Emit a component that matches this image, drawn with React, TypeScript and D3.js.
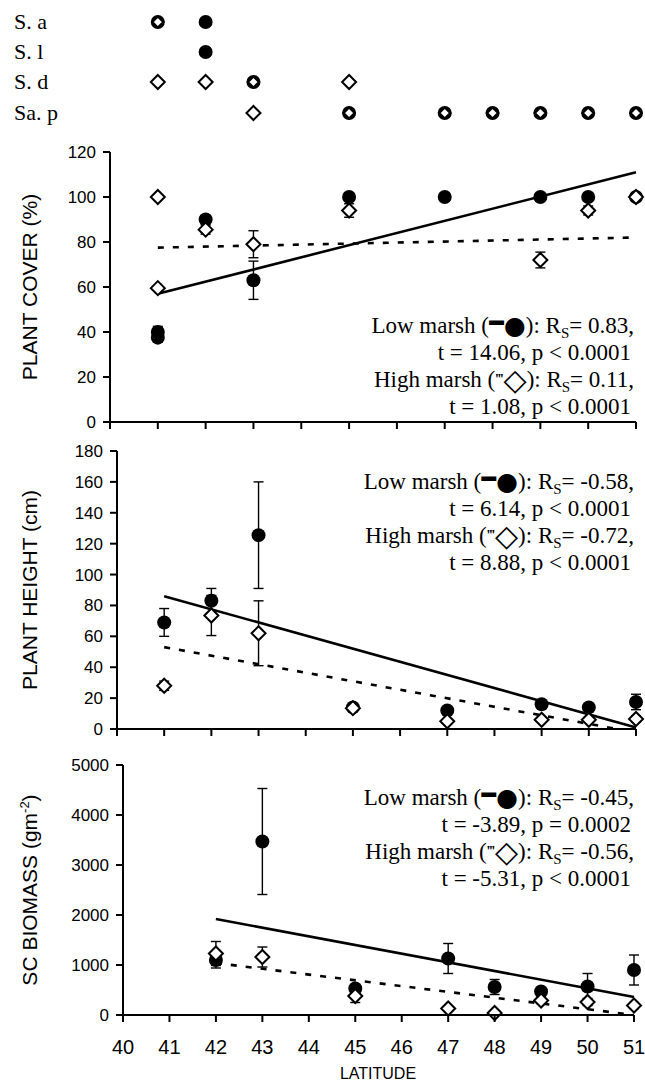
import * as d3 from 'd3';

// [latitude, mean, ± error]
type Obs = [number, number, number];
type Fit = [number, number][];

const latTicks = [40, 41, 42, 43, 44, 45, 46, 47, 48, 49, 50, 51];

// top legend: species rows and the latitudes where each occurs
// f = low marsh (filled), o = high marsh (open), b = both
const legendNames = ['S. a', 'S. l', 'S. d', 'Sa. p'];
const legendSa: [number, string][] = [[41, 'b'], [42, 'f']];
const legendSl: [number, string][] = [[42, 'f']];
const legendSd: [number, string][] = [[41, 'o'], [42, 'o'], [43, 'b'], [45, 'o']];
const legendSap: [number, string][] = [[43, 'o'], [45, 'b'], [47, 'b'], [48, 'b'], [49, 'b'], [50, 'b'], [51, 'b']];

// plant cover (%)
const coverTicks = [0, 20, 40, 60, 80, 100, 120];
const coverLow: Obs[] = [[41, 40, 2.5], [41, 37.5, 2], [42, 90, 1.5], [43, 63, 8.5], [45, 100, 0], [47, 100, 0], [49, 100, 0], [50, 100, 1.5], [51, 100, 0]];
const coverHigh: Obs[] = [[41, 100, 0], [41, 59.5, 1], [42, 85.5, 2], [43, 79, 6], [45, 94, 3], [49, 72, 3.5], [50, 94, 2], [51, 100, 0]];
const coverLowFit: Fit = [[41, 57], [51, 111]];
const coverHighFit: Fit = [[41, 77.5], [51, 82]];
const coverStats = ['0.83,', 't = 14.06, p < 0.0001', '0.11,', 't = 1.08, p < 0.0001'];

// plant height (cm)
const heightTicks = [0, 20, 40, 60, 80, 100, 120, 140, 160, 180];
const heightLow: Obs[] = [[41, 69, 9], [42, 83, 8], [43, 125.5, 34.5], [45, 14, 2], [47, 12, 2], [49, 16, 2], [50, 14, 2], [51, 17.5, 5]];
const heightHigh: Obs[] = [[41, 28, 3], [42, 73.5, 13], [43, 62, 21], [45, 13.5, 2], [47, 5, 1], [49, 6, 1], [50, 6, 1], [51, 6.5, 2]];
const heightLowFit: Fit = [[41, 86], [51, 1]];
const heightHighFit: Fit = [[41, 53], [50.6, 0]];
const heightStats = ['-0.58,', 't = 6.14, p < 0.0001', '-0.72,', 't = 8.88, p < 0.0001'];

// SC biomass (g m-2)
const biomassTicks = [0, 1000, 2000, 3000, 4000, 5000];
const biomassLow: Obs[] = [[42, 1100, 160], [43, 3470, 1060], [45, 530, 60], [47, 1130, 300], [48, 560, 150], [49, 470, 80], [50, 570, 260], [51, 900, 300]];
const biomassHigh: Obs[] = [[42, 1230, 240], [43, 1160, 200], [45, 380, 130], [47, 130, 0], [48, 40, 0], [49, 290, 60], [50, 260, 70], [51, 190, 60]];
const biomassLowFit: Fit = [[42, 1920], [51, 360]];
const biomassHighFit: Fit = [[42, 1040], [51, 0]];
const biomassStats = ['-0.45,', 't = -3.89, p = 0.0002', '-0.56,', 't = -5.31, p < 0.0001'];

const SANS = '"Liberation Sans", Arial, sans-serif';
const SERIF = '"Liberation Serif", "Times New Roman", serif';
const SYMBOL = '"DejaVu Sans", sans-serif';

function Diamond({ cx, cy, r = 7, sw = 2 }: { cx: number; cy: number; r?: number; sw?: number }) {
  return (
    <path
      d={`M${cx},${cy - r}L${cx + r},${cy}L${cx},${cy + r}L${cx - r},${cy}Z`}
      fill="#fff"
      stroke="#000"
      strokeWidth={sw}
    />
  );
}

function Panel(props: {
  xRange: [number, number];
  yMax: number;
  yRange: [number, number];
  ticks: number[];
  low: Obs[];
  high: Obs[];
  lowFit: Fit;
  highFit: Fit;
  stats: string[];
  statsY: number;
  title: any;
  xLabels?: boolean;
}) {
  const x = d3.scaleLinear().domain([40, 51]).range(props.xRange);
  const y = d3.scaleLinear().domain([0, props.yMax]).range(props.yRange);
  const line = d3
    .line<[number, number]>()
    .x((d) => x(d[0]))
    .y((d) => y(d[1]));
  const x0 = props.xRange[0];
  const y0 = props.yRange[0];
  const cap = 5;

  const errBars = (data: Obs[], key: string) =>
    data
      .filter((d) => d[2] > 0)
      .map((d, i) => {
        const cx = x(d[0]);
        const top = y(d[1] + d[2]);
        const bot = y(Math.max(0, d[1] - d[2]));
        return (
          <g key={key + i} stroke="#000" strokeWidth={1.4}>
            <line x1={cx} x2={cx} y1={top} y2={bot} />
            <line x1={cx - cap} x2={cx + cap} y1={top} y2={top} />
            <line x1={cx - cap} x2={cx + cap} y1={bot} y2={bot} />
          </g>
        );
      });

  const sy = props.statsY;
  const lh = 27;
  const sub = (
    <tspan dy={5} fontSize={15}>
      S
    </tspan>
  );

  return (
    <g>
      {/* regression lines */}
      <path d={line(props.lowFit) || ''} fill="none" stroke="#000" strokeWidth={2.6} />
      <path
        d={line(props.highFit) || ''}
        fill="none"
        stroke="#000"
        strokeWidth={2.6}
        strokeDasharray="6,9"
      />
      {errBars(props.low, 'le')}
      {errBars(props.high, 'he')}
      {props.low.map((d, i) => (
        <circle key={'l' + i} cx={x(d[0])} cy={y(d[1])} r={7} fill="#000" />
      ))}
      {props.high.map((d, i) => (
        <Diamond key={'h' + i} cx={x(d[0])} cy={y(d[1])} />
      ))}

      {/* axes */}
      <g stroke="#000" strokeWidth={2}>
        <line x1={x0} x2={x0} y1={y(props.yMax)} y2={y0} />
        <line x1={x0} x2={props.xRange[1]} y1={y0} y2={y0} />
        {props.ticks.map((t) => (
          <line key={'yt' + t} x1={x0 - 7} x2={x0} y1={y(t)} y2={y(t)} />
        ))}
        {latTicks.map((t) => (
          <line key={'xt' + t} x1={x(t)} x2={x(t)} y1={y0} y2={y0 + 7} />
        ))}
      </g>
      <g fontFamily={SANS} fontSize={17} textAnchor="end">
        {props.ticks.map((t) => (
          <text key={'yl' + t} x={x0 - 14} y={y(t) + 6}>
            {t}
          </text>
        ))}
      </g>
      {props.xLabels && (
        <g fontFamily={SANS} fontSize={20} textAnchor="middle">
          {latTicks.map((t) => (
            <text key={'xl' + t} x={x(t)} y={y0 + 39}>
              {t}
            </text>
          ))}
        </g>
      )}
      <text
        transform={`translate(37,${(props.yRange[0] + props.yRange[1]) / 2}) rotate(-90)`}
        textAnchor="middle"
        fontFamily={SANS}
        fontSize={21}
      >
        {props.title}
      </text>

      {/* statistics */}
      <g fontFamily={SERIF} fontSize={23} textAnchor="end">
        <text x={634} y={sy}>
          Low marsh (<tspan fontSize={15} dy={-8}>▬</tspan>
          <tspan fontFamily={SYMBOL} fontSize={25} dy={9}>●</tspan>
          <tspan dy={-1}>): R</tspan>
          {sub}
          <tspan dy={-5}>= {props.stats[0]}</tspan>
        </text>
        <text x={631} y={sy + lh}>
          {props.stats[1]}
        </text>
        <text x={634} y={sy + 2 * lh}>
          High marsh (<tspan fontSize={15} fontWeight="bold" dy={-3}>‴</tspan>
          <tspan fontFamily={SYMBOL} fontSize={30} dy={6}>◇</tspan>
          <tspan dy={-3}>): R</tspan>
          {sub}
          <tspan dy={-5}>= {props.stats[2]}</tspan>
        </text>
        <text x={631} y={sy + 3 * lh}>
          {props.stats[3]}
        </text>
      </g>
    </g>
  );
}

export default function App() {
  const xLegend = d3.scaleLinear().domain([40, 51]).range([110, 636]);
  const legendSets = [legendSa, legendSl, legendSd, legendSap];
  const rowY = [22, 52, 82, 113];

  return (
    <svg
      width={645}
      height={1084}
      style={{ position: 'absolute', left: 0, top: 0, background: '#fff' }}
    >
      <rect width={645} height={1084} fill="#fff" />
      {/* legend of species by latitude */}
      {legendNames.map((name, r) => (
        <g key={name}>
          <text x={14} y={rowY[r] + 7} fontFamily={SERIF} fontSize={22}>
            {name}
          </text>
          {legendSets[r].map(([lat, kind], i) => {
            const cx = xLegend(lat);
            const cy = rowY[r];
            return (
              <g key={i}>
                {kind !== 'o' && <circle cx={cx} cy={cy} r={7} fill="#000" />}
                {kind === 'o' && <Diamond cx={cx} cy={cy} />}
                {kind === 'b' && <Diamond cx={cx} cy={cy} r={5.5} sw={2.2} />}
              </g>
            );
          })}
        </g>
      ))}

      <Panel
        xRange={[110, 636]}
        yMax={120}
        yRange={[422, 152]}
        ticks={coverTicks}
        low={coverLow}
        high={coverHigh}
        lowFit={coverLowFit}
        highFit={coverHighFit}
        stats={coverStats}
        statsY={333}
        title="PLANT COVER (%)"
      />
      <Panel
        xRange={[117, 636]}
        yMax={180}
        yRange={[729, 451]}
        ticks={heightTicks}
        low={heightLow}
        high={heightHigh}
        lowFit={heightLowFit}
        highFit={heightHighFit}
        stats={heightStats}
        statsY={489}
        title="PLANT HEIGHT (cm)"
      />
      <Panel
        xRange={[123, 634]}
        yMax={5000}
        yRange={[1015, 765]}
        ticks={biomassTicks}
        low={biomassLow}
        high={biomassHigh}
        lowFit={biomassLowFit}
        highFit={biomassHighFit}
        stats={biomassStats}
        statsY={805}
        title={
          <>
            SC BIOMASS (gm
            <tspan dy={-8} fontSize={13}>
              -2
            </tspan>
            <tspan dy={8}>)</tspan>
          </>
        }
        xLabels
      />
      <text x={378} y={1079} textAnchor="middle" fontFamily={SANS} fontSize={16}>
        LATITUDE
      </text>
    </svg>
  );
}
